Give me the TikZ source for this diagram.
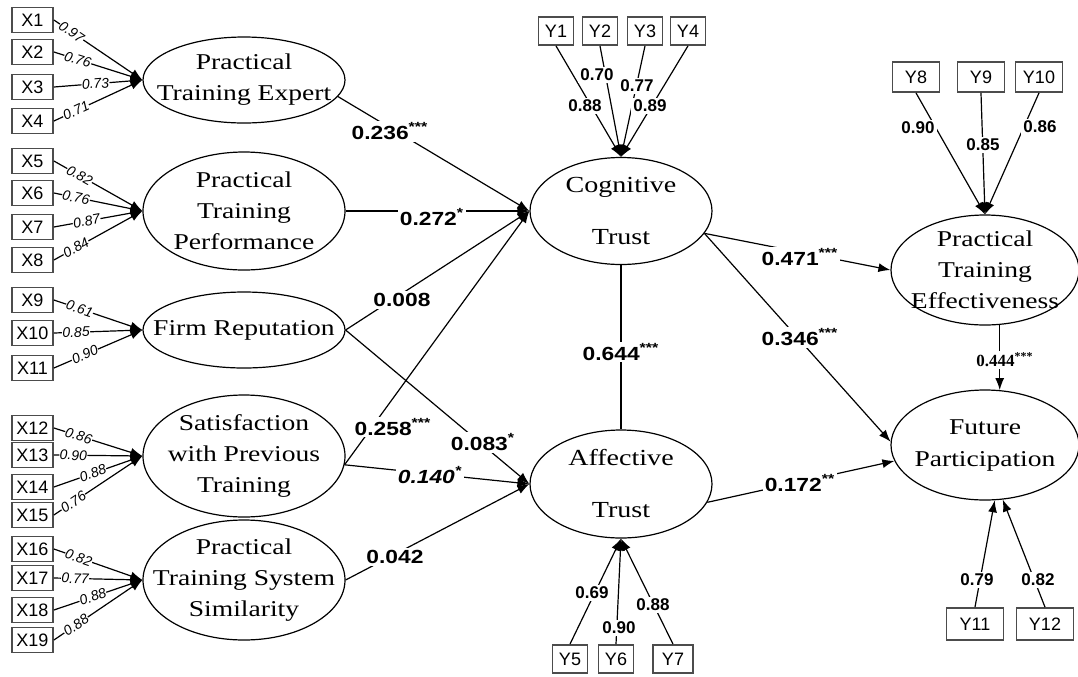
\documentclass[tikz,border=0pt]{standalone}
\usepackage{fontspec}
\setmainfont{Liberation Serif}[FakeStretch=1.22]
\setsansfont{Liberation Sans}[FakeStretch=1.2]
\newfontfamily\plainsans{Liberation Sans}
\newfontfamily\plainserif{Liberation Serif}
\usetikzlibrary{arrows.meta,shapes.geometric,positioning}
\tikzset{
  lat/.style={ellipse, draw, line width=0.6pt, inner sep=-40pt, align=center,
    font=\fontsize{11.3}{15.5}\selectfont},
  ind/.style={draw=black!70, line width=0.9pt, inner sep=0pt,
    font=\plainsans\fontsize{9}{10}\selectfont},
  xbox/.style={ind, minimum width=20.5pt, minimum height=12.5pt},
  arr/.style={-{Latex[length=6pt,width=4.5pt]}, line width=0.6pt},
  coef/.style={fill=white, inner sep=1pt, font=\sffamily\bfseries\fontsize{9.5}{10}\selectfont},
  yld/.style={fill=white, inner sep=1pt, font=\plainsans\bfseries\fontsize{8.5}{10}\selectfont},
  xld/.style={fill=white, inner sep=0.2pt, sloped, font=\plainsans\itshape\fontsize{7}{8}\selectfont}
}
\begin{document}
\begin{tikzpicture}[x=0.5pt,y=-0.5pt]
\useasboundingbox (0,0) rectangle (1078,676);

% latent variables
\node[lat, minimum width=101pt, minimum height=43pt] (pte) at (244,80) {Practical\\Training Expert};
\node[lat, minimum width=101pt, minimum height=59pt] (ptp) at (244,211) {Practical\\Training\\Performance};
\node[lat, minimum width=101pt, minimum height=38pt] (fr) at (244,330) {Firm Reputation};
\node[lat, minimum width=101pt, minimum height=61pt] (spt) at (244,456) {Satisfaction\\with Previous\\Training};
\node[lat, minimum width=101pt, minimum height=60pt] (pts) at (244,580) {Practical\\Training System\\Similarity};
\node[lat, minimum width=91pt, minimum height=53.5pt, font=\fontsize{11.5}{26}\selectfont] (cog) at (621,211) {Cognitive\\Trust};
\node[lat, minimum width=91pt, minimum height=54pt, font=\fontsize{11.5}{26}\selectfont] (aff) at (621,484) {Affective\\Trust};
\node[lat, minimum width=94pt, minimum height=55pt] (eff) at (985,270) {Practical\\Training\\Effectiveness};
\node[lat, minimum width=94pt, minimum height=55pt, font=\fontsize{11.3}{16}\selectfont] (fut) at (985,445) {Future\\Participation};

% indicators on the left
\node[xbox] (x1) at (32.5,20) {X1};
\node[xbox] (x2) at (32.5,52) {X2};
\node[xbox] (x3) at (32.5,87) {X3};
\node[xbox] (x4) at (32.5,121) {X4};
\node[xbox] (x5) at (32.5,161) {X5};
\node[xbox] (x6) at (32.5,193) {X6};
\node[xbox] (x7) at (32.5,227) {X7};
\node[xbox] (x8) at (32.5,260) {X8};
\node[xbox] (x9) at (32.5,300) {X9};
\node[xbox] (x10) at (32.5,333) {X10};
\node[xbox] (x11) at (32.5,368) {X11};
\node[xbox] (x12) at (32.5,428) {X12};
\node[xbox] (x13) at (32.5,455) {X13};
\node[xbox] (x14) at (32.5,487) {X14};
\node[xbox] (x15) at (32.5,515) {X15};
\node[xbox] (x16) at (32.5,549) {X16};
\node[xbox] (x17) at (32.5,578) {X17};
\node[xbox] (x18) at (32.5,610) {X18};
\node[xbox] (x19) at (32.5,640) {X19};

% indicators of the trust and outcome factors
\node[ind, minimum width=17.5pt, minimum height=14pt] (y1) at (556,31) {Y1};
\node[ind, minimum width=17.5pt, minimum height=14pt] (y2) at (600,31) {Y2};
\node[ind, minimum width=17.5pt, minimum height=14pt] (y3) at (645,31) {Y3};
\node[ind, minimum width=17.5pt, minimum height=14pt] (y4) at (688,31) {Y4};
\node[ind, minimum width=17.5pt, minimum height=14pt] (y5) at (570,659) {Y5};
\node[ind, minimum width=17.5pt, minimum height=14pt] (y6) at (616,659) {Y6};
\node[ind, minimum width=20pt, minimum height=14pt] (y7) at (673,659) {Y7};
\node[ind, minimum width=23.5pt, minimum height=15pt] (y8) at (916,77) {Y8};
\node[ind, minimum width=23.5pt, minimum height=15pt] (y9) at (981,77) {Y9};
\node[ind, minimum width=23.5pt, minimum height=15pt] (y10) at (1039,77) {Y10};
\node[ind, minimum width=28.5pt, minimum height=16pt] (y11) at (975,624) {Y11};
\node[ind, minimum width=28.5pt, minimum height=16pt] (y12) at (1045,624) {Y12};

% measurement paths, left
\draw[arr] (x1.east) -- node[xld, pos=0.20] (lx1) {0.97} (pte.west);
\draw[arr] (x2.east) -- node[xld, pos=0.27] (lx2) {0.76} (pte.west);
\draw[arr] (x3.east) -- node[xld, pos=0.47] (lx3) {0.73} (pte.west);
\draw[arr] (x4.east) -- node[xld, pos=0.25] (lx4) {0.71} (pte.west);
\draw[arr] (x5.east) -- node[xld, pos=0.29] (lx5) {0.82} (ptp.west);
\draw[arr] (x6.east) -- node[xld, pos=0.25] (lx6) {0.76} (ptp.west);
\draw[arr] (x7.east) -- node[xld, pos=0.37] (lx7) {0.87} (ptp.west);
\draw[arr] (x8.east) -- node[xld, pos=0.25] (lx8) {0.84} (ptp.west);
\draw[arr] (x9.east) -- node[xld, pos=0.29] (lx9) {0.61} (fr.west);
\draw[arr] (x10.east) -- node[xld, pos=0.25] (lx10) {0.85} (fr.west);
\draw[arr] (x11.east) -- node[xld, pos=0.35] (lx11) {0.90} (fr.west);
\draw[arr] (x12.east) -- node[xld, pos=0.28] (lx12) {0.86} (spt.west);
\draw[arr] (x13.east) -- node[xld, pos=0.22] (lx13) {0.90} (spt.west);
\draw[arr] (x14.east) -- node[xld, pos=0.44] (lx14) {0.88} (spt.west);
\draw[arr] (x15.east) -- node[xld, pos=0.22] (lx15) {0.76} (spt.west);
\draw[arr] (x16.east) -- node[xld, pos=0.28] (lx16) {0.82} (pts.west);
\draw[arr] (x17.east) -- node[xld, pos=0.24] (lx17) {0.77} (pts.west);
\draw[arr] (x18.east) -- node[xld, pos=0.44] (lx18) {0.88} (pts.west);
\draw[arr] (x19.east) -- node[xld, pos=0.25] (lx19) {0.88} (pts.west);

% measurement paths, right
\draw[arr] (y1.south) -- (cog.north);
\draw[arr] (y2.south) -- (cog.north);
\draw[arr] (y3.south) -- (cog.north);
\draw[arr] (y4.south) -- (cog.north);
\draw[arr] (y5.north) -- (aff.south);
\draw[arr] (y6.north) -- (aff.south);
\draw[arr] (y7.north) -- (aff.south);
\draw[arr] (y8.south) -- (eff.north);
\draw[arr] (y9.south) -- (eff.north);
\draw[arr] (y10.south) -- (eff.north);
\draw[arr] (y11.north) -- (fut.-80);
\draw[arr] (y12.north) -- (fut.-72);

% structural paths
\draw[arr] (pte.-10) -- (cog.west);
\draw[arr] (ptp.east) -- (cog.west);
\draw[arr] (fr.east) -- (cog.west);
\draw[arr] (fr.east) -- (aff.west);
\draw[arr] (spt.-5) -- (cog.west);
\draw[arr] (spt.-5) -- (aff.west);
\draw[arr] (pts.east) -- (aff.west);
\draw[line width=0.6pt] (cog.south) -- (aff.north);
\draw[arr] (cog.-15) -- (eff.west);
\draw[arr] (cog.-15) -- (fut.178);
\draw[arr] (aff.-12) -- (fut.190);
\draw[arr] (eff.-75) -- (fut.75);

% loadings
\node[yld] (ly1) at (585,106) {0.88};
\node[yld] (ly2) at (597,75) {0.70};
\node[yld] (ly3) at (637,86) {0.77};
\node[yld] (ly4) at (650,106) {0.89};
\node[yld] (ly5) at (592,593) {0.69};
\node[yld] (ly6) at (619,628) {0.90};
\node[yld] (ly7) at (653,605) {0.88};
\node[yld] (ly8) at (918,128) {0.90};
\node[yld] (ly9) at (983,145) {0.85};
\node[yld] (ly10) at (1040,127) {0.86};
\node[yld] (ly11) at (977,580) {0.79};
\node[yld] (ly12) at (1038,580) {0.82};

% path coefficients
\node[coef] (c1) at (390,131) {0.236\textsuperscript{***}};
\node[coef] (c2) at (432,217) {0.272\textsuperscript{*}};
\node[coef] (c3) at (402,300) {0.008};
\node[coef] (c4) at (483,442) {0.083\textsuperscript{*}};
\node[coef] (c5) at (393,427) {0.258\textsuperscript{***}};
\node[coef, font=\sffamily\bfseries\itshape\fontsize{9.5}{10}\selectfont] (c6) at (430,475) {0.140\textsuperscript{*}};
\node[coef] (c7) at (395,557) {0.042};
\node[coef] (c8) at (621,352) {0.644\textsuperscript{***}};
\node[coef] (c9) at (800,257) {0.471\textsuperscript{***}};
\node[coef] (c10) at (800,337) {0.346\textsuperscript{***}};
\node[coef] (c11) at (800,483) {0.172\textsuperscript{**}};
\node[coef, font=\plainserif\bfseries\fontsize{8.5}{10}\selectfont] (c12) at (1005,360) {0.444\textsuperscript{***}};

\end{tikzpicture}
\end{document}
